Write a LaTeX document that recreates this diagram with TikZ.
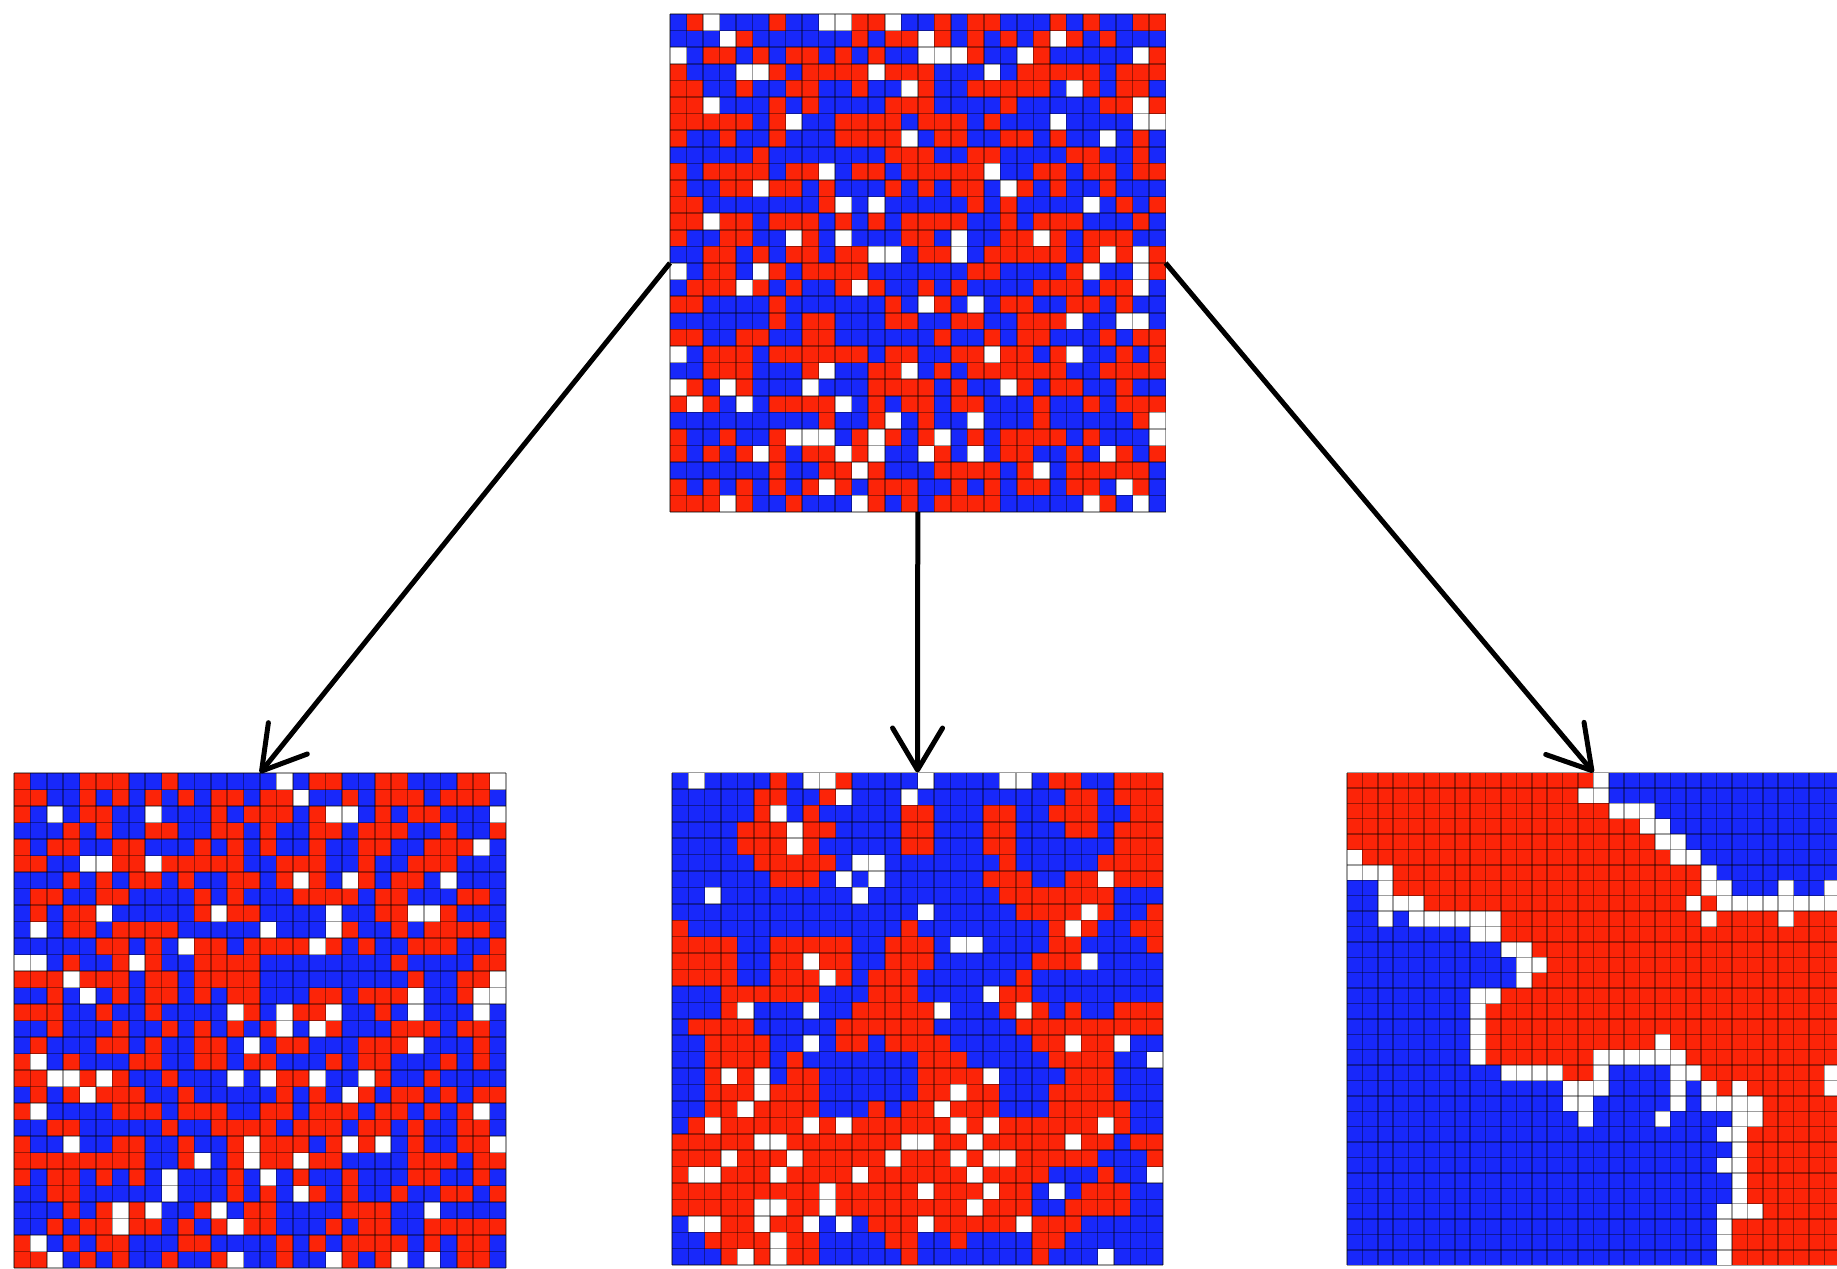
\documentclass[tikz,border=0pt]{standalone}
\usetikzlibrary{arrows.meta,fit}

\definecolor{cR}{RGB}{252,36,8}
\definecolor{cB}{RGB}{24,40,250}
\definecolor{cW}{RGB}{255,255,255}

\tikzset{
  gline/.style={draw=black, opacity=0.38, line width=0.75pt},
  gridbox/.style={inner sep=0pt, outer sep=0pt},
  conn/.style={line width=2.5pt, -{Straight Barb[length=21pt,width=25pt,round]}},
}

% cell painting machinery
\newcount\gridC
\newcount\gridR
\def\setgrid#1#2#3#4{\gdef\gridX{#1}\gdef\gridY{#2}\gdef\gridW{#3}\gdef\gridH{#4}\global\gridR=0 }
\def\paintcell#1{\fill[fill=c#1] ({\gridX+\the\gridC*\gridW},{\gridY+\the\gridR*\gridH}) rectangle ++(\gridW,\gridH);\global\advance\gridC by 1 }
\def\readcells#1{\ifx#1\relax\else\paintcell{#1}\expandafter\readcells\fi}
\def\gridrow#1{\global\gridC=0 \readcells#1\relax\global\advance\gridR by 1 }
\def\rlerow#1{\global\gridC=0 \foreach \nn/\cc in {#1}{\foreach \kk in {1,...,\nn}{\expandafter\paintcell\expandafter{\cc}}}\global\advance\gridR by 1 }

% random lattice of occupied / empty sites
\newcommand\randomgrid[5]{%
  \pgfmathsetseed{#5}%
  \setgrid{#1}{#2}{#3}{#4}%
  \foreach \i in {0,...,29}{\global\gridC=0
    \foreach \j in {0,...,29}{%
      \pgfmathrandominteger{\rr}{0}{99}%
      \ifnum\rr<9 \def\cc{W}\else\ifnum\rr<54 \def\cc{R}\else\def\cc{B}\fi\fi
      \expandafter\paintcell\expandafter{\cc}}%
    \global\advance\gridR by 1 }}

% thin lattice lines: x y w h ncols nrows
\newcommand\latticelines[6]{%
  \foreach \k in {0,...,#5} \draw[gline] ({#1+\k*#3},#2) -- ++(0,{#6*#4});
  \foreach \k in {0,...,#6} \draw[gline] (#1,{#2+\k*#4}) -- ++({#5*#3},0);}

\begin{document}
\begin{tikzpicture}[x=0.5pt,y=-0.5pt]
\useasboundingbox (0,0) rectangle (1837,1269);
\fill[white] (0,0) rectangle (1837,1269);

% initial random state
\randomgrid{670}{14}{16.52}{16.6}{4217}
\latticelines{670}{14}{16.52}{16.6}{30}{30}
\node[gridbox, fit={(670,14) (1165.6,512)}] (top) {};

% early state
\randomgrid{14}{773}{16.4}{16.5}{9083}
\latticelines{14}{773}{16.4}{16.5}{30}{30}
\node[gridbox, fit={(14,773) (506,1268)}] (gl) {};

% intermediate state: clusters
\setgrid{672}{772.5}{16.37}{16.42}
\gridrow{BWBBBBRBWWRBBBBWBBBBWWBRRBBRRR}
\gridrow{BBBBBRRBBRWBBBWBBBBBBBBBRRBRRR}
\gridrow{BBBBBRWBRBBBBBRRBBBRRBBRRRBBRR}
\gridrow{BBBBRRRWRRBBBBRRBBBRRBBBRRBRRR}
\gridrow{BBBBRRRWRBBBBBRRBBBRRBBBBBBRRR}
\gridrow{BBBBBRRRRRBWWBBBBBBBRBBBBBRRRR}
\gridrow{BBBBBBRRRBWBWBBBBBBRRRBBRRWRRR}
\gridrow{BBWBBBBBBBBWBBBBBBBBRRRRRRRBBB}
\gridrow{BBBBBBBBBBBBBBBWBBBBBRRRRWRBBR}
\gridrow{RBBBBBBBBBBBBBRBBBBBBBBRWRBBRR}
\gridrow{RRRRBBRRRRRBBRRRBWWBBBBRRBBBBR}
\gridrow{RRRRBBRRWRRBBRRRBBBBBBRRRWBBBB}
\gridrow{RRRRBBRRRWRBRRRBBBBBBRBBBBBBBB}
\gridrow{BBBRRRRRRBBBRRRBBBBWRRBBBBBBBB}
\gridrow{BBBRWBBBWBBRRRRRWBBBRWRBRBBRRR}
\gridrow{BRRRRBBBBBRRRRRRBBBBBRRRRRRRRR}
\gridrow{BBRRRRBBWBRRBRRRRBBBBBRRWRRWBB}
\gridrow{BBRRRRBRBBBBBBBRRRBBBBBRRRRBBW}
\gridrow{BBRWRWBRRBBBBBBRRRRWBBBBRRRBBB}
\gridrow{BBRRRWRRRBBBBBBRRWRRBBBRRRRBBB}
\gridrow{BBRRWRRRRBBBRBRRWRRRBBBRRRRRBB}
\gridrow{BRWRRRRRWRWRRRRRRWRWRRRRRRWRBB}
\gridrow{RRRRRWWRRRRRRRWWRRWRRRRRWRRBRR}
\gridrow{RRRWRRRWRRRRRWRRRWRWWRRRRRBBBR}
\gridrow{RWWRRRWRRRRWRRRRRRWRRRRBBBRBBW}
\gridrow{RRRRRRRRRWRRRRRWRRRWRRBWBRRRBB}
\gridrow{RRRRRWWRRWRRRRRRRRWRRRBBRRRRBB}
\gridrow{BWWRRWRRWBWBRRRWRRRRRWRRRBBBBB}
\gridrow{BBRRRRWRRBBBBRRBBRBBBBRRBBBBBB}
\gridrow{BBBRWRWRRBBBBBRBBBBBBBRBBBWBBB}
\latticelines{672}{772.5}{16.37}{16.42}{30}{30}
\node[gridbox, fit={(672,772.5) (1163,1265)}] (gm) {};

% late state: two segregated domains
\begin{scope}
\clip (0,0) rectangle (1837,1269);
\setgrid{1347}{772.5}{15.4}{15.4}
\rlerow{16/R,1/W,15/B}
\rlerow{15/R,2/W,15/B}
\rlerow{17/R,3/W,12/B}
\rlerow{19/R,2/W,11/B}
\rlerow{20/R,2/W,10/B}
\rlerow{1/W,20/R,2/W,9/B}
\rlerow{3/W,20/R,1/W,8/B}
\rlerow{2/B,1/W,20/R,2/W,3/B,1/W,2/B,1/W}
\rlerow{2/B,3/W,17/R,1/W,1/R,8/W}
\rlerow{2/B,1/W,1/B,6/W,13/R,1/W,4/R,1/W,3/R}
\rlerow{8/B,2/W,22/R}
\rlerow{10/B,2/W,20/R}
\rlerow{11/B,2/W,19/R}
\rlerow{11/B,1/W,20/R}
\rlerow{8/B,2/W,22/R}
\rlerow{8/B,1/W,23/R}
\rlerow{8/B,1/W,23/R}
\rlerow{8/B,1/W,11/R,1/W,11/R}
\rlerow{8/B,1/W,7/R,6/W,10/R}
\rlerow{10/B,4/W,2/R,1/W,4/B,2/W,8/R,1/W}
\rlerow{14/B,3/W,4/B,1/W,1/B,1/W,1/R,1/W,5/R,1/W}
\rlerow{14/B,2/W,5/B,1/W,1/B,4/W,5/R}
\rlerow{15/B,1/W,4/B,1/W,4/B,2/W,5/R}
\rlerow{24/B,2/W,6/R}
\rlerow{25/B,1/W,6/R}
\rlerow{24/B,2/W,6/R}
\rlerow{25/B,1/W,6/R}
\rlerow{25/B,1/W,6/R}
\rlerow{24/B,3/W,5/R}
\rlerow{24/B,1/W,7/R}
\rlerow{24/B,1/W,7/R}
\rlerow{24/B,1/W,7/R}
\latticelines{1347}{772.5}{15.4}{15.4}{32}{32}
\end{scope}
\node[gridbox, fit={(1347,772.5) (1840,1265)}] (gr) {};

% evolution arrows
\draw[conn] (top.west) -- (gl.north);
\draw[conn] (top.south) -- (gm.north);
\draw[conn] (top.east) -- (gr.north);
\end{tikzpicture}
\end{document}
